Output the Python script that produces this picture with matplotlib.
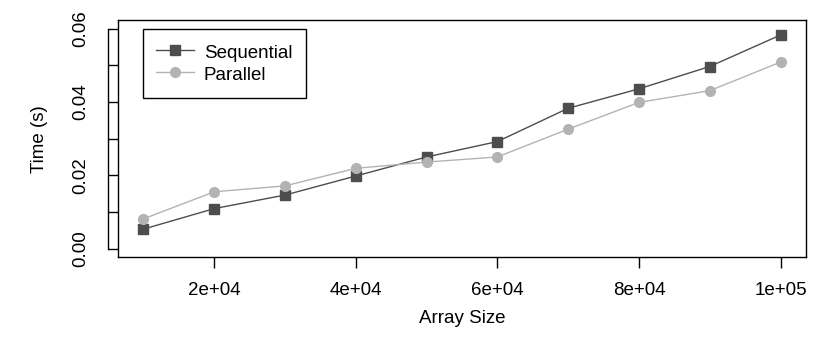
import numpy as np
import matplotlib
matplotlib.use("Agg")
import matplotlib.pyplot as plt

plt.rcParams['font.family'] = ['Liberation Sans', 'DejaVu Sans']

# array sizes and timings
sizes = [10000, 20000, 30000, 40000, 50000, 60000, 70000, 80000, 90000, 100000]
sequential = [0.0053, 0.0109, 0.0146, 0.0198, 0.0250, 0.0292, 0.0383, 0.0436, 0.0497, 0.0583]
parallel = [0.0081, 0.0155, 0.0171, 0.0219, 0.0236, 0.0250, 0.0326, 0.0399, 0.0431, 0.0509]
xticks = [20000, 40000, 60000, 80000, 100000]
xlabels = ['2e+04', '4e+04', '6e+04', '8e+04', '1e+05']
yticks = [0.00, 0.01, 0.02, 0.03, 0.04, 0.05, 0.06]
ylabels = ['0.00', '', '0.02', '', '0.04', '', '0.06']

fig = plt.figure(figsize=(8.3, 3.52), dpi=100)
ax = fig.add_axes([118 / 830, 1 - 257.3 / 352, 688 / 830, 237.3 / 352])

ax.plot(sizes, sequential, color='#4d4d4d', lw=1, marker='s', ms=6.8,
        label='Sequential')
ax.plot(sizes, parallel, color='#b3b3b3', lw=1, marker='o', ms=7,
        label='Parallel')

ax.set_xlim(6400, 103600)
ax.set_ylim(-0.0024, 0.0624)

# R style: y axis line pushed out, box drawn round the plot region
# (set_position resets the ticks, so do it before styling them)
ax.spines['left'].set_position(('outward', 7.5))
ax.spines['left'].set_bounds(0, 0.06)
ax.plot([0, 0], [0, 1], transform=ax.transAxes, color='black', lw=1, clip_on=False)
for s in ['top', 'right', 'bottom', 'left']:
    ax.spines[s].set_linewidth(1)

fs = 13.5
ax.set_xticks(xticks)
ax.set_xticklabels(xlabels)
ax.set_yticks(yticks)
ax.set_yticklabels(ylabels, rotation=90, va='center')
ax.tick_params(axis='x', direction='out', length=8, width=1, pad=10, labelsize=fs)
ax.tick_params(axis='y', direction='in', length=7.5, width=1, pad=13, labelsize=fs)

ax.set_xlabel('Array Size', fontsize=fs, labelpad=8)
ax.set_ylabel('Time (s)', fontsize=fs, labelpad=18)

leg = ax.legend(loc='upper left', bbox_to_anchor=(0.036, 0.963), borderaxespad=0,
                fancybox=False, edgecolor='black', fontsize=fs, handlelength=2.0,
                handleheight=1.23, handletextpad=0.53, borderpad=0.72,
                labelspacing=0.1, framealpha=1)
leg.get_frame().set_linewidth(1)

fig.savefig('out.png', dpi=100)
